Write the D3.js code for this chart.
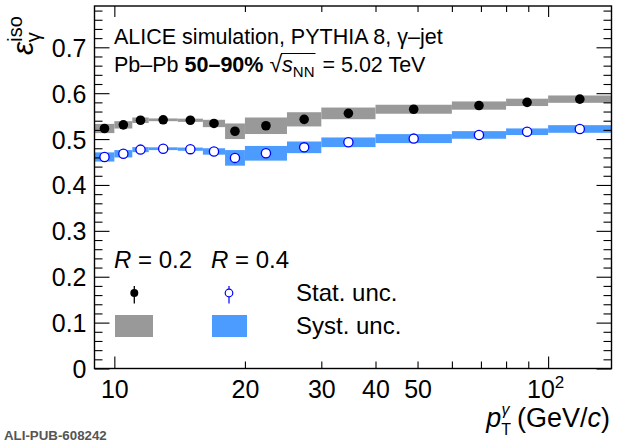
<!DOCTYPE html>
<html><head><meta charset="utf-8">
<script src="https://cdn.jsdelivr.net/npm/d3@7"></script>
<style>body{margin:0;background:#fff}svg{display:block}text{font-family:"Liberation Sans",Arial,sans-serif}</style>
</head><body>
<svg id="c" width="620" height="446"></svg>
<script>
// ---- data ----
const binEdges = [9,10,11,12,14,16,18,20,25,30,40,60,80,100,140];
const ptCenters = [9.49,10.49,11.49,12.96,14.97,16.97,18.97,22.36,27.39,34.64,48.99,69.28,89.44,118.32];
const effR02 = [0.523,0.531,0.541,0.542,0.541,0.534,0.517,0.529,0.543,0.556,0.565,0.573,0.580,0.587];
const sysR02 = [0.010,0.008,0.006,0.003,0.0035,0.008,0.017,0.018,0.0155,0.0127,0.0098,0.009,0.008,0.008];
const statR02 = [0.004,0.004,0.003,0.003,0.003,0.003,0.004,0.004,0.004,0.004,0.004,0.004,0.004,0.004];
const effR04 = [0.461,0.468,0.477,0.479,0.478,0.473,0.459,0.469,0.482,0.493,0.501,0.509,0.516,0.522];
const sysR04 = [0.010,0.008,0.0055,0.003,0.0035,0.007,0.017,0.016,0.0127,0.0105,0.0098,0.0083,0.0072,0.0083];
const statR04 = [0.004,0.004,0.003,0.003,0.003,0.003,0.004,0.004,0.004,0.004,0.004,0.004,0.004,0.004];
const xMajor = [10,100];
const xMinor = [20,30,40,50,60,70,80,90];
const xLabels = [10,20,30,40,50,100];
const yMajor = [0,0.1,0.2,0.3,0.4,0.5,0.6,0.7];
const yMinor = [0.02,0.04,0.06,0.08,0.12,0.14,0.16,0.18,0.22,0.24,0.26,0.28,0.32,0.34,0.36,0.38,0.42,0.44,0.46,0.48,0.52,0.54,0.56,0.58,0.62,0.64,0.66,0.68,0.72,0.74,0.76,0.78];

const GRAY = "#999999", BLUE_BOX = "#4c9bff", BLUE = "#0000ff";
const L = 94.5, R = 611.5, T = 6, B = 368.5;
const svg = d3.select("#c");
const x = d3.scaleLog().domain([9,140]).range([L,R]);
const y = d3.scaleLinear().domain([0,0.79]).range([B,T]);

// systematic boxes
function boxes(eff, sys, color){
  svg.append("g").selectAll("rect").data(eff).join("rect")
    .attr("x",(d,i)=>x(binEdges[i]))
    .attr("width",(d,i)=>x(binEdges[i+1])-x(binEdges[i]))
    .attr("y",(d,i)=>y(d+sys[i]))
    .attr("height",(d,i)=>y(d-sys[i])-y(d+sys[i]))
    .attr("fill",color);
}
boxes(effR02, sysR02, GRAY);
boxes(effR04, sysR04, BLUE_BOX);

// axes
function ax(gen, tr){ const g = svg.append("g").attr("transform",tr).call(gen); g.select(".domain").remove(); g.selectAll("line").attr("stroke","#000").attr("stroke-width",1.1); return g; }
ax(d3.axisBottom(x).tickValues(xMajor).tickSize(-12).tickFormat(""), `translate(0,${B})`);
ax(d3.axisBottom(x).tickValues(xMinor).tickSize(-7).tickFormat(""), `translate(0,${B})`);
ax(d3.axisTop(x).tickValues(xMajor).tickSize(-11).tickFormat(""), `translate(0,${T})`);
ax(d3.axisTop(x).tickValues(xMinor).tickSize(-6).tickFormat(""), `translate(0,${T})`);
ax(d3.axisLeft(y).tickValues(yMajor).tickSize(-15).tickFormat(""), `translate(${L},0)`);
ax(d3.axisLeft(y).tickValues(yMinor).tickSize(-8).tickFormat(""), `translate(${L},0)`);
ax(d3.axisRight(y).tickValues(yMajor).tickSize(-15).tickFormat(""), `translate(${R},0)`);
ax(d3.axisRight(y).tickValues(yMinor).tickSize(-8).tickFormat(""), `translate(${R},0)`);

// tick labels
const yl = svg.append("g").attr("transform",`translate(${L},0)`)
  .call(d3.axisLeft(y).tickValues(yMajor).tickSize(0).tickPadding(8).tickFormat(d=>d===0?"0":d3.format(".1f")(d)));
yl.select(".domain").remove();
yl.selectAll("text").attr("font-size",25).attr("font-family","Liberation Sans").attr("fill","#000").attr("dy","0.36em");
const xl = svg.append("g").attr("transform",`translate(0,${B})`)
  .call(d3.axisBottom(x).tickValues(xLabels).tickSize(0).tickPadding(12).tickFormat(d=>d===100?"10":String(d)));
xl.select(".domain").remove();
xl.selectAll("text").attr("font-size",25).attr("font-family","Liberation Sans").attr("fill","#000").attr("dy","0.71em");
xl.selectAll("text").filter(d=>d===100).attr("dx","-3").append("tspan").attr("font-size",17).attr("dy","-10").text("2");

// frame
svg.append("rect").attr("x",L).attr("y",T).attr("width",R-L).attr("height",B-T)
  .attr("fill","none").attr("stroke","#000").attr("stroke-width",1.4);

// stat error bars + markers
function points(eff, stat, filled){
  const g = svg.append("g");
  g.selectAll("line").data(eff).join("line")
    .attr("x1",(d,i)=>x(ptCenters[i])).attr("x2",(d,i)=>x(ptCenters[i]))
    .attr("y1",(d,i)=>y(d-stat[i])).attr("y2",(d,i)=>y(d+stat[i]))
    .attr("stroke",filled?"#000":BLUE).attr("stroke-width",1.2);
  g.selectAll("circle").data(eff).join("circle")
    .attr("cx",(d,i)=>x(ptCenters[i])).attr("cy",d=>y(d)).attr("r",filled?4.8:4.6)
    .attr("fill",filled?"#000":"#fff").attr("stroke",filled?"none":BLUE).attr("stroke-width",1.3);
}
points(effR02, statR02, true);
points(effR04, statR04, false);

// header text
svg.append("text").attr("x",114).attr("y",43.5).attr("font-size",21.5).text("ALICE simulation, PYTHIA 8, γ–jet");
const h2 = svg.append("text").attr("x",114).attr("y",71.5).attr("font-size",21.5);
h2.append("tspan").text("Pb–Pb ");
h2.append("tspan").attr("font-weight","bold").text("50–90%");
h2.append("tspan").attr("dx",6).attr("font-size",23).text("√");
h2.append("tspan").attr("font-style","italic").text("s");
h2.append("tspan").attr("font-size",15).attr("dy",5).text("NN");
h2.append("tspan").attr("dy",-5).attr("dx",2).text(" = 5.02 TeV");
// overbar of sqrt, from the radical's top over s_NN
{
  const tn = h2.node();
  const n1 = "Pb–Pb ".length + "50–90%".length;
  const radBox = tn.getExtentOfChar(n1);
  const endNN = tn.getEndPositionOfChar(n1 + 3).x;
  svg.append("line").attr("x1",radBox.x + radBox.width - 1).attr("x2",endNN + 1)
    .attr("y1",radBox.y + 3).attr("y2",radBox.y + 3).attr("stroke","#000").attr("stroke-width",1.2);
}

// legend
function rlab(xp, val){
  const t = svg.append("text").attr("x",xp).attr("y",268).attr("font-size",24);
  t.append("tspan").attr("font-style","italic").text("R");
  t.append("tspan").text(" = "+val);
}
rlab(114,"0.2"); rlab(211,"0.4");
svg.append("line").attr("x1",134.3).attr("x2",134.3).attr("y1",286).attr("y2",303.5).attr("stroke","#000").attr("stroke-width",1.3);
svg.append("circle").attr("cx",134.3).attr("cy",293).attr("r",4).attr("fill","#000");
svg.append("line").attr("x1",229).attr("x2",229).attr("y1",286).attr("y2",289.2).attr("stroke",BLUE).attr("stroke-width",1.2);
svg.append("line").attr("x1",229).attr("x2",229).attr("y1",297).attr("y2",303.5).attr("stroke",BLUE).attr("stroke-width",1.2);
svg.append("circle").attr("cx",229).attr("cy",293).attr("r",3.8).attr("fill","#fff").attr("stroke",BLUE).attr("stroke-width",1.2);
svg.append("text").attr("x",296).attr("y",301).attr("font-size",24).text("Stat. unc.");
svg.append("rect").attr("x",115).attr("y",315).attr("width",38).attr("height",22).attr("fill",GRAY);
svg.append("rect").attr("x",212).attr("y",315).attr("width",35).attr("height",22).attr("fill",BLUE_BOX);
svg.append("text").attr("x",296).attr("y",334).attr("font-size",24).text("Syst. unc.");

// y title
const yt = svg.append("text").attr("transform","translate(33,55) rotate(-90)");
yt.append("tspan").attr("font-style","italic").attr("font-size",30).text("ε");
yt.append("tspan").attr("font-size",20).attr("dy",-11).text("iso");
yt.append("tspan").attr("font-size",20).attr("dx",-26).attr("dy",18).text("γ");

// x title
const xt = svg.append("text").attr("x",610).attr("y",427).attr("text-anchor","end").attr("font-size",27);
xt.append("tspan").attr("font-style","italic").text("p");
xt.append("tspan").attr("font-size",16).attr("dy",8).text("T");
xt.append("tspan").attr("font-size",16).attr("dx",-9.5).attr("dy",-20).attr("font-style","italic").text("γ");
xt.append("tspan").attr("dy",12).text(" (GeV/");
xt.append("tspan").attr("font-style","italic").text("c");
xt.append("tspan").text(")");

// watermark
svg.append("text").attr("x",4).attr("y",440).attr("font-family","Liberation Mono").attr("font-size",13.3).attr("font-weight","bold").attr("fill","#555").text("ALI-PUB-608242");
</script>
</body></html>
